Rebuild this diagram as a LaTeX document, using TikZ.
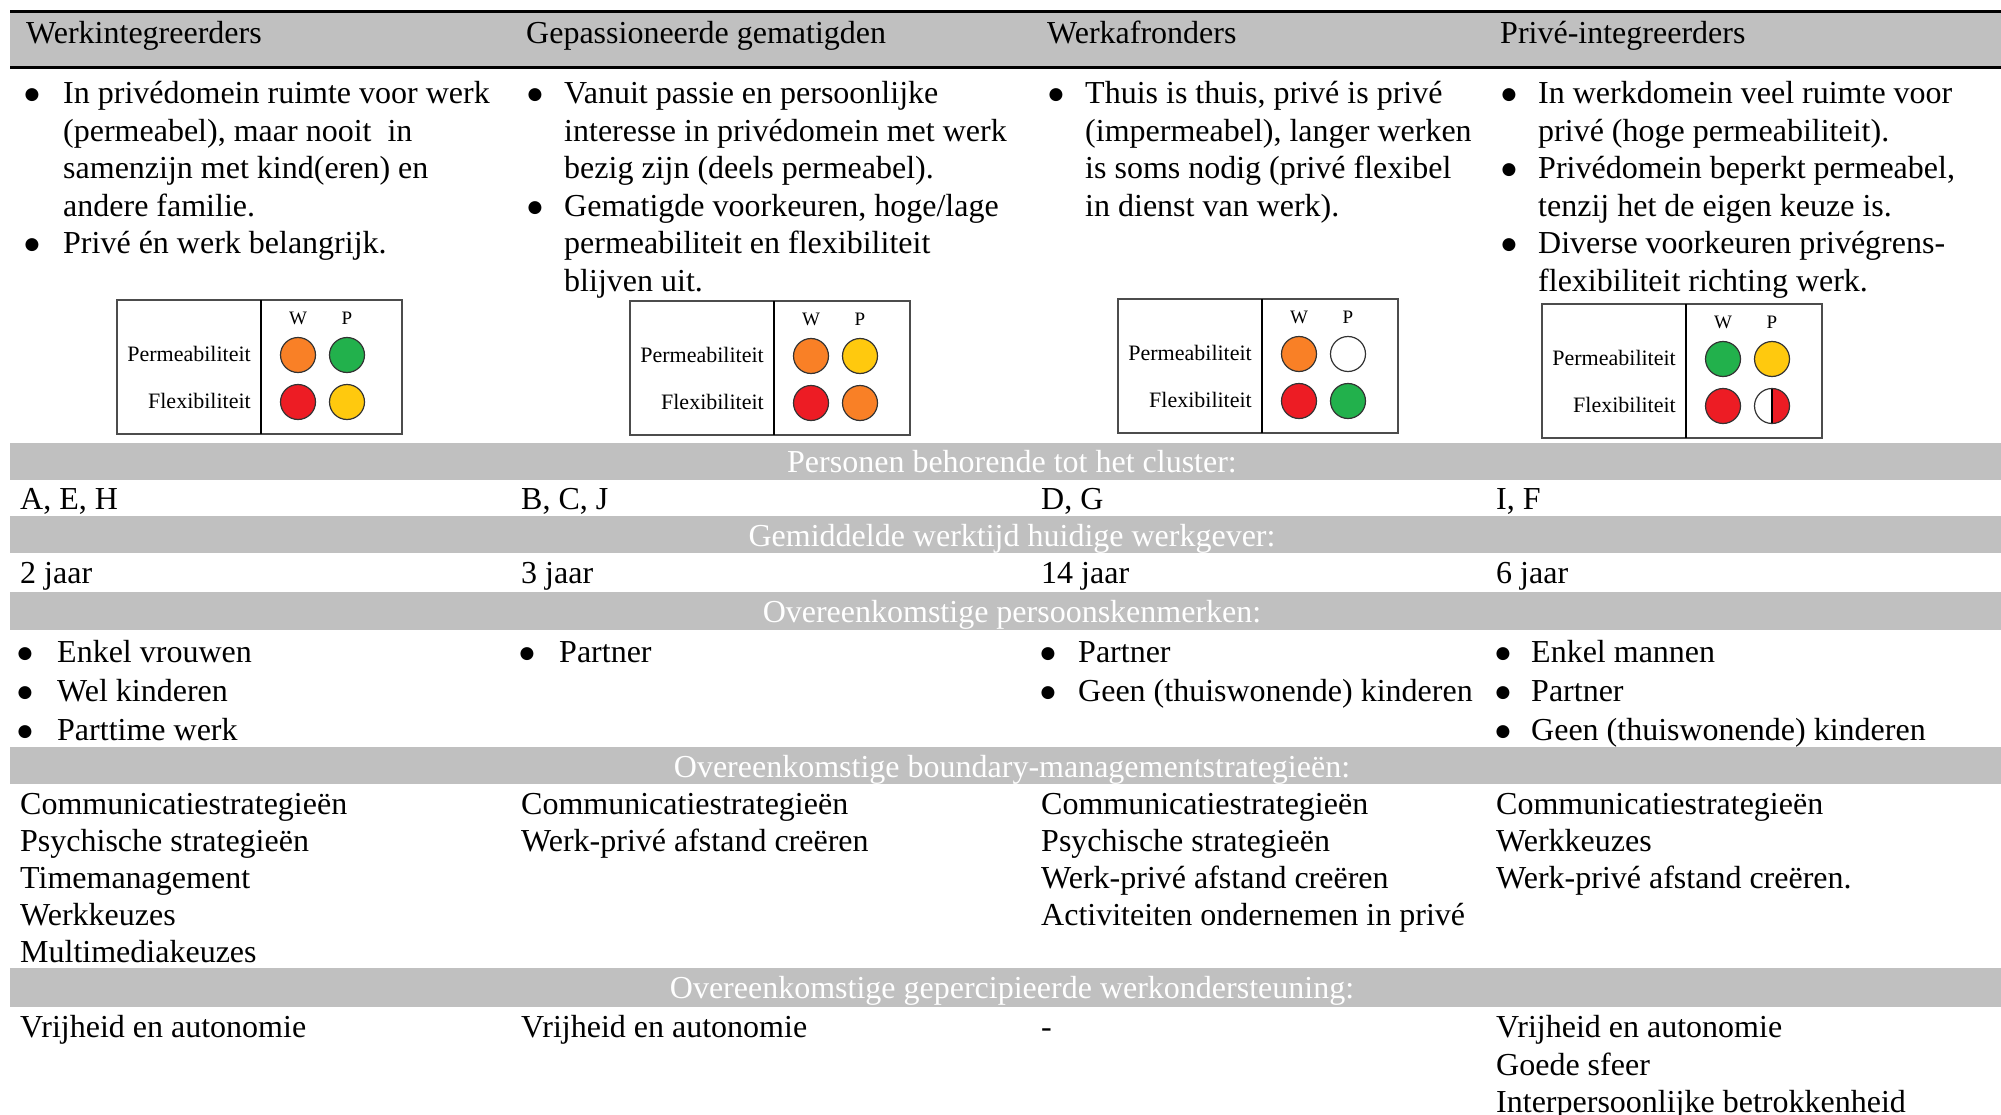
\documentclass[tikz,border=0pt]{standalone}
\usepackage{fontspec}
\setmainfont{Liberation Serif}
\newfontfamily\bulfont{DejaVu Sans}
\definecolor{bandgray}{RGB}{192,192,192}
\definecolor{corange}{RGB}{249,128,38}
\definecolor{cgreen}{RGB}{34,177,76}
\definecolor{cred}{RGB}{237,28,36}
\definecolor{cyellow}{RGB}{255,201,14}
\tikzset{
 body/.style={anchor=base west, inner sep=0pt, font=\fontsize{32}{38}\selectfont},
 bul/.style={anchor=base, inner sep=0pt, yshift=4pt, font=\bulfont\fontsize{17}{20}\selectfont},
 bandtext/.style={anchor=base, inner sep=0pt, text=white, font=\fontsize{32}{38}\selectfont},
 band/.style={fill=bandgray},
 rowlbl/.style={anchor=base east, inner sep=0pt, font=\fontsize{22}{26}\selectfont},
 wplbl/.style={anchor=base, inner sep=0pt, font=\fontsize{19}{22}\selectfont},
 dot/.style={circle, draw=black!80, line width=1.2pt, minimum size=35pt, inner sep=0pt},
 halfdot/.style={dot, fill=white, path picture={
   \fill[cred] (path picture bounding box.north) rectangle (path picture bounding box.south east);
   \draw[black, line width=1.6pt] (path picture bounding box.north) -- (path picture bounding box.south);}},
 tabframe/.style={draw=black!70, line width=2pt},
 tabdiv/.style={draw=black, line width=1.5pt},
 headrule/.style={line width=3pt}
}
% #1 prefix, #2 x, #3 y, #4 width, #5 perm W, #6 perm P, #7 flex W, #8 flex P style
\newcommand{\wptab}[8]{%
 \begin{scope}[shift={(#2,#3)}]
  \draw[tabframe] (0,0) rectangle (#4,134);
  \draw[tabdiv] (144,0) -- (144,134);
  \node[wplbl] (#1W) at (181,24) {W};
  \node[wplbl] (#1P) at (230,24) {P};
  \node[rowlbl] (#1perm) at (134,61) {Permeabiliteit};
  \node[rowlbl] (#1flex) at (134,108) {Flexibiliteit};
  \node[dot, fill=#5] (#1pw) at (181,55) {};
  \node[dot, fill=#6] (#1pp) at (230,55) {};
  \node[dot, fill=#7] (#1fw) at (181,102) {};
  \node[#8] (#1fp) at (230,102) {};
 \end{scope}}
\begin{document}
\begin{tikzpicture}[x=1pt,y=-1pt]
\useasboundingbox[fill=white] (0,0) rectangle (2001,1115);
% header
\fill[band] (10,12) rectangle (2001,68);
\draw[headrule] (10,12) -- (2001,12);
\draw[headrule] (10,68) -- (2001,68);
\node[body] (h1) at (26,44) {Werkintegreerders};
\node[body] (h2) at (526,44) {Gepassioneerde gematigden};
\node[body] (h3) at (1047,44) {Werkafronders};
\node[body] (h4) at (1500,44) {Privé-integreerders};
% column 1 description
\node[bul] (a1b1) at (32,104) {●};
\node[body] (a1t1) at (63,104) {In privédomein ruimte voor werk};
\node[body] (a1t2) at (63,141.5) {(permeabel), maar nooit\ \ in};
\node[body] (a1t3) at (63,179) {samenzijn met kind(eren) en};
\node[body] (a1t4) at (63,216.5) {andere familie.};
\node[bul] (a1b2) at (32,254) {●};
\node[body] (a1t5) at (63,254) {Privé én werk belangrijk.};
% column 2 description
\node[bul] (a2b1) at (535,104) {●};
\node[body] (a2t1) at (564,104) {Vanuit passie en persoonlijke};
\node[body] (a2t2) at (564,141.5) {interesse in privédomein met werk};
\node[body] (a2t3) at (564,179) {bezig zijn (deels permeabel).};
\node[bul] (a2b2) at (535,216.5) {●};
\node[body] (a2t4) at (564,216.5) {Gematigde voorkeuren, hoge/lage};
\node[body] (a2t5) at (564,254) {permeabiliteit en flexibiliteit};
\node[body] (a2t6) at (564,291.5) {blijven uit.};
% column 3 description
\node[bul] (a3b1) at (1056,104) {●};
\node[body] (a3t1) at (1085,104) {Thuis is thuis, privé is privé};
\node[body] (a3t2) at (1085,141.5) {(impermeabel), langer werken};
\node[body] (a3t3) at (1085,179) {is soms nodig (privé flexibel};
\node[body] (a3t4) at (1085,216.5) {in dienst van werk).};
% column 4 description
\node[bul] (a4b1) at (1509,104) {●};
\node[body] (a4t1) at (1538,104) {In werkdomein veel ruimte voor};
\node[body] (a4t2) at (1538,141.5) {privé (hoge permeabiliteit).};
\node[bul] (a4b2) at (1509,179) {●};
\node[body] (a4t3) at (1538,179) {Privédomein beperkt permeabel,};
\node[body] (a4t4) at (1538,216.5) {tenzij het de eigen keuze is.};
\node[bul] (a4b3) at (1509,254) {●};
\node[body] (a4t5) at (1538,254) {Diverse voorkeuren privégrens-};
\node[body] (a4t6) at (1538,291.5) {flexibiliteit richting werk.};
% small tables
\wptab{ta}{117}{300}{285}{corange}{cgreen}{cred}{dot, fill=cyellow}
\wptab{tb}{630}{301}{280}{corange}{cyellow}{cred}{dot, fill=corange}
\wptab{tc}{1118}{299}{280}{corange}{white}{cred}{dot, fill=cgreen}
\wptab{td}{1542}{304}{280}{cgreen}{cyellow}{cred}{halfdot}
% band 1
\fill[band] (10,443) rectangle (2001,480);
\node[bandtext] (s1) at (1012,472) {Personen behorende tot het cluster:};
\node[body] (p1) at (20,509) {A, E, H};
\node[body] (p2) at (521,509) {B, C, J};
\node[body] (p3) at (1041,509) {D, G};
\node[body] (p4) at (1496,509) {I, F};
% band 2
\fill[band] (10,516) rectangle (2001,553);
\node[bandtext] (s2) at (1012,546) {Gemiddelde werktijd huidige werkgever:};
\node[body] (j1) at (20,583) {2 jaar};
\node[body] (j2) at (521,583) {3 jaar};
\node[body] (j3) at (1041,583) {14 jaar};
\node[body] (j4) at (1496,583) {6 jaar};
% band 3
\fill[band] (10,592) rectangle (2001,630);
\node[bandtext] (s3) at (1012,622) {Overeenkomstige persoonskenmerken:};
\node[bul] (k1b1) at (25,662) {●};
\node[body] (k1t1) at (57,662) {Enkel vrouwen};
\node[bul] (k1b2) at (25,701) {●};
\node[body] (k1t2) at (57,701) {Wel kinderen};
\node[bul] (k1b3) at (25,740) {●};
\node[body] (k1t3) at (57,740) {Parttime werk};
\node[bul] (k2b1) at (527,662) {●};
\node[body] (k2t1) at (559,662) {Partner};
\node[bul] (k3b1) at (1048,662) {●};
\node[body] (k3t1) at (1078,662) {Partner};
\node[bul] (k3b2) at (1048,701) {●};
\node[body] (k3t2) at (1078,701) {Geen (thuiswonende) kinderen};
\node[bul] (k4b1) at (1503,662) {●};
\node[body] (k4t1) at (1531,662) {Enkel mannen};
\node[bul] (k4b2) at (1503,701) {●};
\node[body] (k4t2) at (1531,701) {Partner};
\node[bul] (k4b3) at (1503,740) {●};
\node[body] (k4t3) at (1531,740) {Geen (thuiswonende) kinderen};
% band 4
\fill[band] (10,747) rectangle (2001,784);
\node[bandtext] (s4) at (1012,777) {Overeenkomstige boundary-managementstrategieën:};
\node[body] (m1a) at (20,814) {Communicatiestrategieën};
\node[body] (m1b) at (20,851) {Psychische strategieën};
\node[body] (m1c) at (20,888) {Timemanagement};
\node[body] (m1d) at (20,925) {Werkkeuzes};
\node[body] (m1e) at (20,962) {Multimediakeuzes};
\node[body] (m2a) at (521,814) {Communicatiestrategieën};
\node[body] (m2b) at (521,851) {Werk-privé afstand creëren};
\node[body] (m3a) at (1041,814) {Communicatiestrategieën};
\node[body] (m3b) at (1041,851) {Psychische strategieën};
\node[body] (m3c) at (1041,888) {Werk-privé afstand creëren};
\node[body] (m3d) at (1041,925) {Activiteiten ondernemen in privé};
\node[body] (m4a) at (1496,814) {Communicatiestrategieën};
\node[body] (m4b) at (1496,851) {Werkkeuzes};
\node[body] (m4c) at (1496,888) {Werk-privé afstand creëren.};
% band 5
\fill[band] (10,968) rectangle (2001,1007);
\node[bandtext] (s5) at (1012,998) {Overeenkomstige gepercipieerde werkondersteuning:};
\node[body] (o1) at (20,1037) {Vrijheid en autonomie};
\node[body] (o2) at (521,1037) {Vrijheid en autonomie};
\node[body] (o3) at (1041,1037) {-};
\node[body] (o4a) at (1496,1037) {Vrijheid en autonomie};
\node[body] (o4b) at (1496,1075) {Goede sfeer};
\node[body] (o4c) at (1496,1112) {Interpersoonlijke betrokkenheid};
\end{tikzpicture}
\end{document}
